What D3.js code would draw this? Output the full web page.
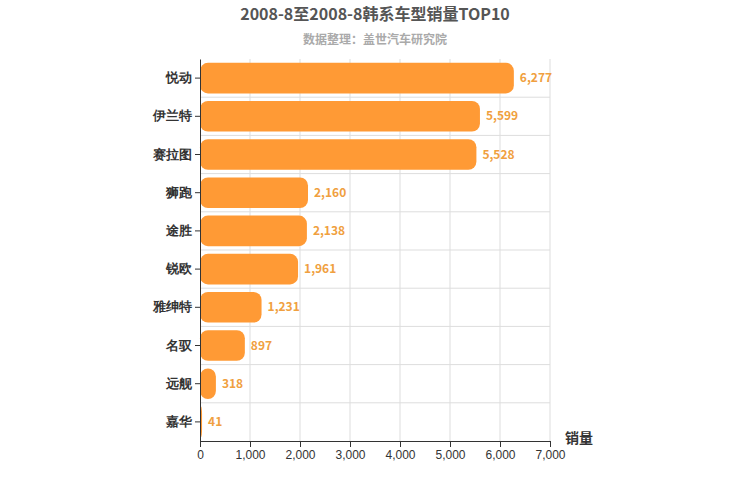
<!DOCTYPE html>
<html><head><meta charset="utf-8">
<script src="https://cdn.jsdelivr.net/npm/d3@7"></script>
<style>body{margin:0;background:#fff;font-family:"Noto Sans CJK SC",sans-serif;}</style>
</head><body><div id="chart"></div>
<script>
const categories = ["悦动","伊兰特","赛拉图","狮跑","途胜","锐欧","雅绅特","名驭","远舰","嘉华"];
const values = [6277,5599,5528,2160,2138,1961,1231,897,318,41];
const ticks = [0,1000,2000,3000,4000,5000,6000,7000];

const w = 750, h = 500;
const m = {left:200, right:200, top:59, bottom:60};
const svg = d3.select("#chart").append("svg").attr("width",w).attr("height",h);

const x = d3.scaleLinear().domain([0,7000]).range([m.left, 550]);
const y = d3.scaleBand().domain(categories).range([m.top, 441]).paddingInner(0.2).paddingOuter(0.1);
const band = d3.scaleBand().domain(categories).range([m.top, 441]);

// grid
svg.append("g").selectAll("line").data(ticks.slice(1)).join("line")
  .attr("x1",d=>x(d)).attr("x2",d=>x(d)).attr("y1",m.top).attr("y2",441)
  .attr("stroke","#ddd");
svg.append("g").selectAll("line").data(categories.slice(1)).join("line")
  .attr("x1",m.left).attr("x2",550).attr("y1",d=>band(d)).attr("y2",d=>band(d))
  .attr("stroke","#ddd");

svg.append("g").selectAll("rect").data(values).join("rect")
  .attr("x",x(0)).attr("y",(d,i)=>y(categories[i]))
  .attr("width",d=>x(d)-x(0)).attr("height",y.bandwidth())
  .attr("rx",8).attr("fill","#ff9a35");

svg.append("g").selectAll("text").data(values).join("text")
  .attr("x",d=>x(d)+6).attr("y",(d,i)=>y(categories[i])+y.bandwidth()/2+4)
  .attr("fill","#f0a040").attr("font-size",12).attr("font-weight","bold")
  .text(d=>d3.format(",")(d));

const xa = svg.append("g").attr("transform","translate(0,441)")
  .call(d3.axisBottom(x).tickValues(ticks).tickFormat(d3.format(",")).tickSizeOuter(0));
xa.selectAll("text").attr("font-size",12).attr("fill","#333");
xa.selectAll("line,path").attr("stroke","#333");

const ya = svg.append("g").attr("transform",`translate(${m.left},0)`)
  .call(d3.axisLeft(band).tickSize(5).tickSizeOuter(0));
ya.selectAll("text").attr("font-size",13).attr("font-weight","bold").attr("fill","#333");
ya.selectAll("line,path").attr("stroke","#333");

svg.append("text").attr("x",375).attr("y",20).attr("text-anchor","middle")
  .attr("font-size",16).attr("font-weight","bold").attr("fill","#555")
  .text("2008-8至2008-8韩系车型销量TOP10");
svg.append("text").attr("x",375).attr("y",44).attr("text-anchor","middle")
  .attr("font-size",12).attr("font-weight","bold").attr("fill","#aaa")
  .text("数据整理：盖世汽车研究院");
svg.append("text").attr("x",565).attr("y",443).attr("font-size",14).attr("font-weight","bold").attr("fill","#333")
  .text("销量");
</script></body></html>
